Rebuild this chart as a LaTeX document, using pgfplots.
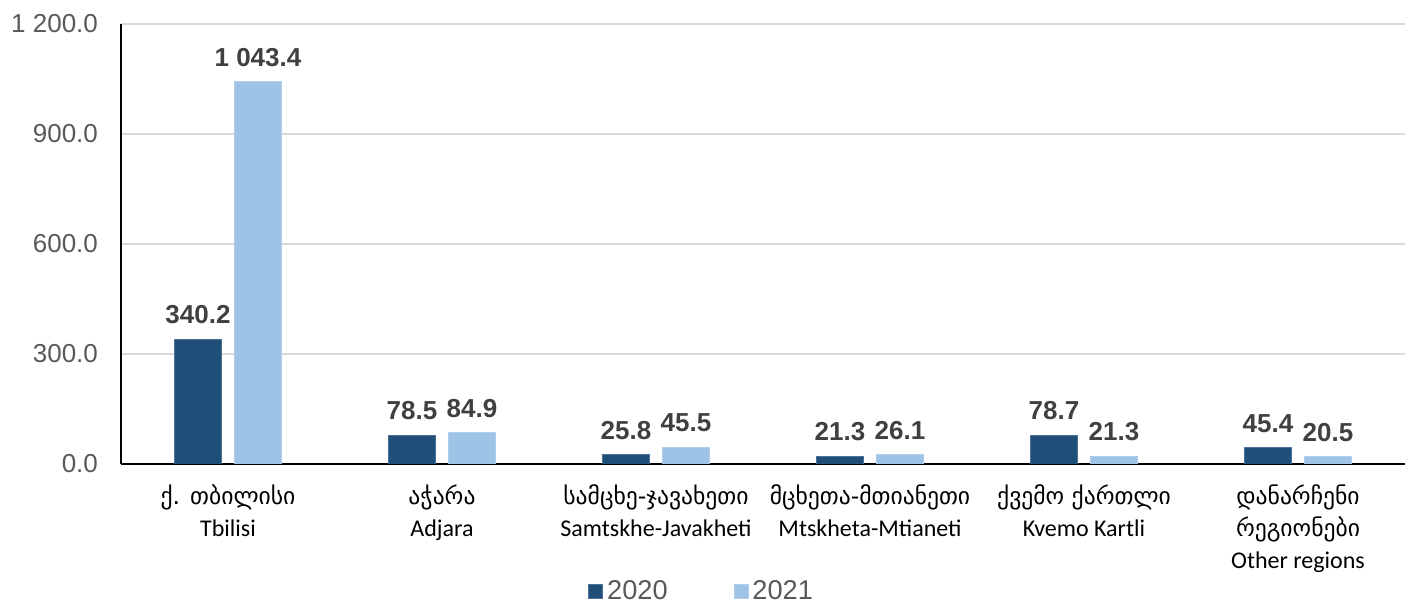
\documentclass[border=0pt]{standalone}
\usepackage{pgfplots}
\pgfplotsset{compat=1.18}
\usepackage{fontspec}
\setmainfont{Liberation Sans}
\newfontfamily\geo{DejaVu Sans}
\newfontfamily\calfont{Carlito}
\definecolor{dark}{HTML}{1F4E79}
\definecolor{light}{HTML}{9DC3E6}
\definecolor{txt}{HTML}{595959}
\definecolor{lbl}{HTML}{404040}
\newcommand{\G}[1]{{\geo\fontsize{11.8}{16}\selectfont #1}}
\begin{document}
\begin{tikzpicture}
\begin{axis}[
  at={(0pt,0pt)}, anchor=south west,
  scale only axis, width=642pt, height=220pt,
  ybar=6.5pt, bar width=23.5pt,
  xmin=-0.5, xmax=5.5, ymin=0, ymax=1200,
  ytick={0,300,600,900,1200},
  xtick={0,1,2,3,4,5},
  xticklabels={
    {\G{ქ. თბილისი}\\Tbilisi},
    {\G{აჭარა}\\Adjara},
    {\G{სამცხე-ჯავახეთი}\\Samtskhe-Javakheti},
    {\G{მცხეთა-მთიანეთი}\\Mtskheta-Mtianeti},
    {\G{ქვემო ქართლი}\\Kvemo Kartli},
    {\G{დანარჩენი}\\\G{რეგიონები}\\Other regions}},
  xticklabel style={align=center, font=\calfont\fontsize{12}{16}\selectfont, text=black, anchor=north, yshift=-7pt},
  axis lines*=left,
  axis line style={black, line width=0.8pt},
  major tick length=0pt,
  ymajorgrids, grid style={color=black!15, line width=0.8pt},
  yticklabel style={font=\fontsize{13}{15}\selectfont, text=txt, xshift=-8pt,
    /pgf/number format/.cd, fixed, fixed zerofill, precision=1, 1000 sep={\ }, assume math mode=true},
  nodes near coords,
  every node near coord/.append style={font=\bfseries\fontsize{13}{15}\selectfont, text=lbl, yshift=4pt,
    /pgf/number format/.cd, fixed, fixed zerofill, precision=1, 1000 sep={\ }, assume math mode=true},
  legend style={at={(0.453,-0.29)}, anchor=center, draw=none, legend columns=2,
    font=\fontsize{13.6}{15}\selectfont, text=txt,
    /tikz/every even column/.append style={column sep=31pt}},
  legend image code/.code={\fill[#1] (0pt,-3.5pt) rectangle (7pt,3.5pt);},
]
\addplot[fill=dark, draw=dark!80!white] coordinates {(0,340.2) (1,78.5) (2,25.8) (3,21.3) (4,78.7) (5,45.4)};
\addplot[fill=light, draw=light!80!white] coordinates {(0,1043.4) (1,84.9) (2,45.5) (3,26.1) (4,21.3) (5,20.5)};
\legend{2020,2021}
\end{axis}
\pgfresetboundingbox
\path[use as bounding box] (-60.5pt,-69.5pt) rectangle (645pt,232pt);
\end{tikzpicture}
\end{document}
